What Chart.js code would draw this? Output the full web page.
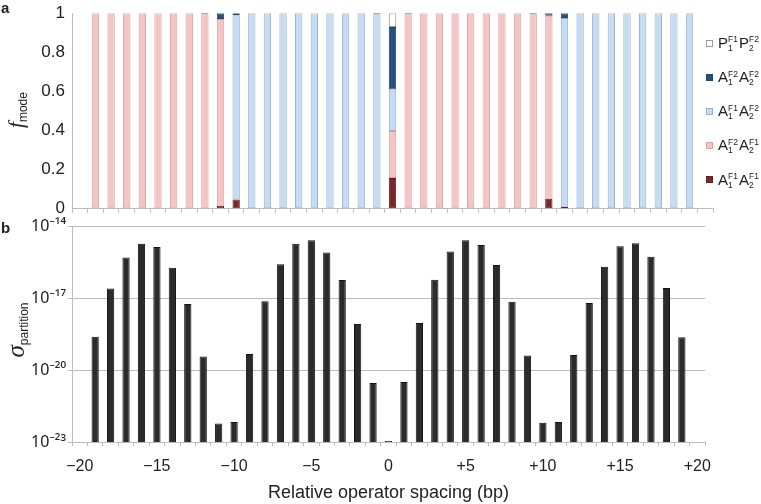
<!DOCTYPE html>
<html>
<head>
<meta charset="utf-8">
<script src="https://cdn.jsdelivr.net/npm/chart.js@4.4.1/dist/chart.umd.min.js"></script>
<style>
  body { margin: 0; background: #fff; font-family: "Liberation Sans", Arial, sans-serif; color: #222; }
  #wrap { position: relative; width: 761px; height: 504px; overflow: hidden; }
  canvas { position: absolute; left: 0; }
  #chartA { top: 0; }
  #chartB { top: 215px; }
  .panel { position: absolute; font-weight: bold; font-size: 15px; line-height: 15px; }
  .ytitle { position: absolute; white-space: nowrap; transform: translate(-50%, -50%) rotate(-90deg); line-height: 1; }
  .ytitle i { font-family: "Liberation Serif", "Times New Roman", serif; }
  .ytitle sub { font-style: normal; font-size: 12px; vertical-align: -4px; }
  #legend { position: absolute; left: 706px; top: 26px; }
  .row { height: 34.2px; display: flex; align-items: center; font-size: 15px; }
  .mk { width: 5px; height: 5px; border: 1px solid; margin-right: 5px; }
  .ss { display: inline-flex; flex-direction: column; vertical-align: middle; font-size: 8.5px; line-height: 8.5px; margin-right: 1px; }
</style>
</head>
<body>
<div id="wrap">
  <canvas id="chartA" width="714" height="222"></canvas>
  <canvas id="chartB" width="761" height="289"></canvas>
  <div class="panel" style="left:1px; top:0px;">a</div>
  <div class="panel" style="left:1px; top:220px;">b</div>
  <div class="ytitle" style="left:17px; top:110px; font-size:21px;"><i>f</i><sub>mode</sub></div>
  <div class="ytitle" style="left:16px; top:330px; font-size:25px;"><i>σ</i><sub>partition</sub></div>
  <div id="legend"></div>
</div>
<script>
// relative operator spacing (bp), one category per base pair
const spacing = [-20, -19, -18, -17, -16, -15, -14, -13, -12, -11, -10, -9, -8, -7, -6, -5, -4, -3, -2, -1,
  0, 1, 2, 3, 4, 5, 6, 7, 8, 9, 10, 11, 12, 13, 14, 15, 16, 17, 18, 19, 20];

// f_mode per binding mode (fraction), stacked bottom -> top
const modeA1F1A2F1 = [null, null, null, null, null, null, null, null, null, 0.015, 0.047, null, null, null, null, null, null, null, null, null,
  0.158, null, null, null, null, null, null, null, null, null, 0.052, 0.01, null, null, null, null, null, null, null, null, null];
const modeA1F2A2F1 = [null, 1, 1, 1, 1, 1, 1, 1, 0.995, 0.955, null, null, null, null, null, null, null, null, null, null,
  0.24, 0.995, 1, 1, 1, 1, 1, 1, 1, 0.995, 0.935, null, null, null, null, null, null, null, null, null, null];
const modeA1F1A2F2 = [null, null, null, null, null, null, null, null, null, null, 0.943, 1, 1, 1, 1, 1, 1, 1, 1, 0.995,
  0.212, null, null, null, null, null, null, null, null, null, null, 0.965, 1, 1, 1, 1, 1, 1, 1, 1, null];
const modeA1F2A2F2 = [null, null, null, null, null, null, null, null, 0.005, 0.03, 0.01, null, null, null, null, null, null, null, null, 0.005,
  0.32, 0.005, null, null, null, null, null, null, null, 0.005, 0.013, 0.025, null, null, null, null, null, null, null, null, null];
const modeP1F1P2F2 = [null, null, null, null, null, null, null, null, null, null, null, null, null, null, null, null, null, null, null, null,
  0.07, null, null, null, null, null, null, null, null, null, null, null, null, null, null, null, null, null, null, null, null];

// sigma_partition per spacing
const sigma = [null, 2.5e-19, 2.6e-17, 5.1e-16, 1.9e-15, 1.4e-15, 1.9e-16, 5.9e-18, 3.7e-20, 5.9e-23, 6.8e-23,
  4.8e-20, 7.6e-18, 2.7e-16, 1.9e-15, 2.7e-15, 8.3e-16, 5.9e-17, 8.5e-19, 2.9e-21,
  1.1e-23,
  3.2e-21, 9.3e-19, 6.0e-17, 9.1e-16, 2.7e-15, 1.7e-15, 2.5e-16, 7.2e-18, 4.1e-20, 6.3e-23,
  6.8e-23, 4.3e-20, 6.5e-18, 2.1e-16, 1.5e-15, 2.0e-15, 5.5e-16, 2.7e-17, 2.4e-19, null];

const sigmaTicks = [1e-23, 1e-20, 1e-17, 1e-14];
const sigmaTickLabels = ['10⁻²³', '10⁻²⁰', '10⁻¹⁷', '10⁻¹⁴'];

// legend names: [letter, sup, sub] twice
const modeNames = [
  [['A', 'F1', '1'], ['A', 'F1', '2']],
  [['A', 'F2', '1'], ['A', 'F1', '2']],
  [['A', 'F1', '1'], ['A', 'F2', '2']],
  [['A', 'F2', '1'], ['A', 'F2', '2']],
  [['P', 'F1', '1'], ['P', 'F2', '2']]
];
const modeData = [modeA1F1A2F1, modeA1F2A2F1, modeA1F1A2F2, modeA1F2A2F2, modeP1F1P2F2];
const fills = ['#7a2727', '#f3c6c6', '#c7dbf1', '#27507e', '#ffffff'];
const edges = ['#6a1d1d', '#dba4a4', '#92b3d9', '#1e4470', '#9a9a9a'];

const grey = '#bdbdbd';
const fmtX = n => n === 0 ? '0' : (n < 0 ? '\u2212' + (-n) : '+' + n);

new Chart(document.getElementById('chartA'), {
  type: 'bar',
  data: {
    labels: spacing,
    datasets: modeData.map((d, i) => ({
      label: modeNames[i].map(p => p.join('')).join(''),
      data: d,
      backgroundColor: fills[i],
      borderColor: edges[i],
      borderWidth: 1,
      borderSkipped: false,
      categoryPercentage: 1,
      barPercentage: 0.47
    }))
  },
  options: {
    responsive: false,
    animation: false,
    layout: { padding: { top: 8, right: 1 } },
    plugins: { legend: { display: false }, tooltip: { enabled: false } },
    scales: {
      x: {
        stacked: true,
        offset: true,
        grid: { offset: true, drawOnChartArea: false, tickLength: 4, color: grey },
        border: { color: grey },
        ticks: { display: false },
        afterFit: s => { s.height = 10; }
      },
      y: {
        stacked: true,
        min: 0, max: 1,
        ticks: { stepSize: 0.2, font: { size: 17 }, color: '#222', padding: 3, callback: v => String(+v.toFixed(1)) },
        grid: { drawOnChartArea: false, tickLength: 4, tickColor: 'rgba(0,0,0,0)' },
        border: { color: grey },
        afterFit: s => { s.width = 72; }
      }
    }
  }
});

new Chart(document.getElementById('chartB'), {
  type: 'bar',
  data: {
    labels: spacing,
    datasets: [{
      label: 'sigma_partition',
      data: sigma,
      backgroundColor: '#2b2b2b',
      borderColor: '#141414',
      borderWidth: 1,
      categoryPercentage: 1,
      barPercentage: 0.47
    }]
  },
  options: {
    responsive: false,
    animation: false,
    layout: { padding: { top: 11, right: 56 } },
    plugins: { legend: { display: false }, tooltip: { enabled: false } },
    scales: {
      x: {
        offset: true,
        grid: { offset: true, drawOnChartArea: false, tickLength: 4, color: grey },
        border: { color: grey },
        ticks: {
          autoSkip: false, maxRotation: 0, font: { size: 16 }, color: '#222', padding: 11,
          callback: (v, i) => spacing[i] % 5 === 0 ? fmtX(spacing[i]) : ''
        },
        title: { display: true, text: 'Relative operator spacing (bp)', font: { size: 18 }, color: '#222', padding: { top: 0, bottom: 0 } },
        afterFit: s => { s.height = 62; }
      },
      y: {
        type: 'logarithmic',
        min: 1e-23, max: 1e-14,
        afterBuildTicks: s => { s.ticks = sigmaTicks.map(v => ({ value: v })); },
        ticks: {
          font: { size: 16, family: '"Noto Sans", "DejaVu Sans", sans-serif' }, color: '#222', padding: 2,
          callback: v => sigmaTickLabels[sigmaTicks.indexOf(v)]
        },
        grid: { color: grey, tickLength: 4 },
        border: { color: grey },
        afterFit: s => { s.width = 72; }
      }
    }
  }
});

// legend, top row = top of the stack
const legend = document.getElementById('legend');
for (let i = modeNames.length - 1; i >= 0; i--) {
  const row = document.createElement('div');
  row.className = 'row';
  let html = `<span class="mk" style="background:${fills[i]};border-color:${edges[i]}"></span><span>`;
  modeNames[i].forEach(([l, sp, sb]) => {
    html += `${l}<span class="ss"><span>${sp}</span><span>${sb}</span></span>`;
  });
  row.innerHTML = html + '</span>';
  legend.appendChild(row);
}
</script>
</body>
</html>
